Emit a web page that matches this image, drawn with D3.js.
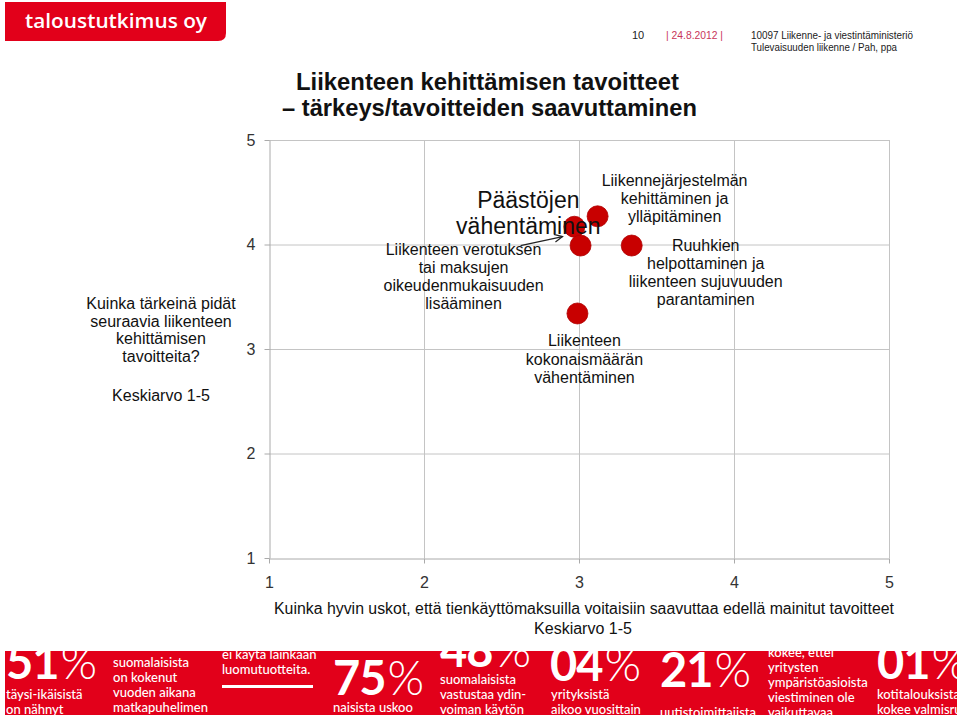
<!DOCTYPE html>
<html>
<head>
<meta charset="utf-8">
<script src="https://cdn.jsdelivr.net/npm/d3@7"></script>
<style>
  html, body { margin: 0; padding: 0; background: #fff; }
  svg { display: block; }
  text { font-family: "Liberation Sans", Arial, sans-serif; }
  .banner text { font-family: Lato, "Open Sans", sans-serif; }
</style>
</head>
<body>
<svg id="chart" width="960" height="716"></svg>
<script>
// ---------- DATA ----------
const categories = [
  "Päästöjen vähentäminen",
  "Liikennejärjestelmän kehittäminen ja ylläpitäminen",
  "Liikenteen verotuksen tai maksujen oikeudenmukaisuuden lisääminen",
  "Ruuhkien helpottaminen ja liikenteen sujuvuuden parantaminen",
  "Liikenteen kokonaismäärän vähentäminen"
];
// x: how well road-use charges could achieve the goal (mean 1-5)
const beliefValues = [2.97, 3.12, 3.01, 3.34, 2.99];
// y: importance of the goal (mean 1-5)
const importanceValues = [4.17, 4.27, 3.99, 3.99, 3.34];
const xTicks = [1, 2, 3, 4, 5];
const yTicks = [1, 2, 3, 4, 5];
const labelLines = [
  ["Päästöjen", "vähentäminen"],
  ["Liikennejärjestelmän", "kehittäminen ja", "ylläpitäminen"],
  ["Liikenteen verotuksen", "tai maksujen", "oikeudenmukaisuuden", "lisääminen"],
  ["Ruuhkien", "helpottaminen ja", "liikenteen sujuvuuden", "parantaminen"],
  ["Liikenteen", "kokonaismäärän", "vähentäminen"]
];
const titleLines = ["Liikenteen kehittämisen tavoitteet", "– tärkeys/tavoitteiden saavuttaminen"];
const yTitleLines = ["Kuinka tärkeinä pidät", "seuraavia liikenteen", "kehittämisen", "tavoitteita?"];
const xTitle = "Kuinka hyvin uskot, että tienkäyttömaksuilla voitaisiin saavuttaa edellä mainitut tavoitteet";
const meanNote = "Keskiarvo 1-5";
const headerPage = "10";
const headerDate = "| 24.8.2012 |";
const headerLines = ["10097 Liikenne- ja viestintäministeriö", "Tulevaisuuden liikenne / Pah, ppa"];
const logoText = "taloustutkimus oy";

// ---------- LAYOUT ----------
const svg = d3.select("#chart");
const plot = { left: 269, right: 889, top: 140, bottom: 558 };
const x = d3.scaleLinear().domain([1, 5]).range([plot.left, plot.right]);
const y = d3.scaleLinear().domain([1, 5]).range([plot.bottom, plot.top]);
const gridColor = "#c4c4c4";
const red = "#e2001a";

// logo
svg.append("path")
  .attr("d", "M5,2 H226 V33 Q226,41 218,41 H5 Z")
  .attr("fill", red);
svg.append("text")
  .attr("x", 25).attr("y", 28)
  .style("font-family", "'Open Sans', sans-serif")
  .attr("font-weight", 600).attr("font-size", 20)
  .attr("fill", "#fff")
  .attr("textLength", 182).attr("lengthAdjust", "spacingAndGlyphs")
  .text(logoText);

// header
const hdr = svg.append("g").attr("font-size", 11).attr("fill", "#222");
hdr.append("text").attr("x", 632).attr("y", 39).text(headerPage);
hdr.append("text").attr("x", 666).attr("y", 39).attr("fill", "#c8355a")
  .attr("textLength", 57).attr("lengthAdjust", "spacingAndGlyphs").text(headerDate);
hdr.append("text").attr("x", 751).attr("y", 39)
  .attr("textLength", 162).attr("lengthAdjust", "spacingAndGlyphs").text(headerLines[0]);
hdr.append("text").attr("x", 751).attr("y", 51)
  .attr("textLength", 146).attr("lengthAdjust", "spacingAndGlyphs").text(headerLines[1]);

// title
svg.append("text").attr("x", 296).attr("y", 90)
  .attr("font-size", 24).attr("font-weight", "bold").attr("fill", "#111")
  .attr("textLength", 383).attr("lengthAdjust", "spacingAndGlyphs")
  .text(titleLines[0]);
svg.append("text").attr("x", 282).attr("y", 116)
  .attr("font-size", 24).attr("font-weight", "bold").attr("fill", "#111")
  .attr("textLength", 415).attr("lengthAdjust", "spacingAndGlyphs")
  .text(titleLines[1]);

// grid
const grid = svg.append("g");
grid.selectAll("line.h").data(yTicks.filter(d => d > 1)).join("line")
  .attr("x1", plot.left).attr("x2", plot.right)
  .attr("y1", d => y(d) + 0.5).attr("y2", d => y(d) + 0.5)
  .attr("stroke", gridColor);
grid.selectAll("line.v").data(xTicks.filter(d => d > 1)).join("line")
  .attr("y1", plot.top).attr("y2", plot.bottom)
  .attr("x1", d => x(d) + 0.5).attr("x2", d => x(d) + 0.5)
  .attr("stroke", gridColor);

// axes
const xAxis = svg.append("g").attr("transform", `translate(0,${plot.bottom + 0.5})`)
  .call(d3.axisBottom(x).tickValues(xTicks).tickSize(5).tickPadding(13).tickSizeOuter(0).tickFormat(d3.format("d")));
const yAxis = svg.append("g").attr("transform", `translate(${plot.left + 0.5},0)`)
  .call(d3.axisLeft(y).tickValues(yTicks).tickSize(5).tickPadding(9).tickSizeOuter(0).tickFormat(d3.format("d")));
[xAxis, yAxis].forEach(a => {
  a.select(".domain").attr("stroke", "#aaa");
  a.selectAll(".tick line").attr("stroke", "#aaa");
  a.selectAll(".tick text").attr("font-size", 16).attr("fill", "#333")
    .attr("font-family", "Liberation Sans, Arial, sans-serif");
});

// axis titles
svg.append("text").attr("x", 584).attr("y", 614).attr("text-anchor", "middle")
  .attr("font-size", 16).attr("fill", "#111")
  .attr("textLength", 620).attr("lengthAdjust", "spacingAndGlyphs").text(xTitle);
svg.append("text").attr("x", 583).attr("y", 634).attr("text-anchor", "middle")
  .attr("font-size", 16).attr("fill", "#111").text(meanNote);

const yt = svg.append("g").attr("font-size", 16).attr("fill", "#111").attr("text-anchor", "middle");
yTitleLines.forEach((t, i) => {
  yt.append("text").attr("x", 161).attr("y", 309 + i * 17.7).text(t);
});
yt.append("text").attr("x", 161).attr("y", 401).text(meanNote);

// points
const pts = categories.map((c, i) => ({ c, bx: beliefValues[i], iy: importanceValues[i], lines: labelLines[i] }));
svg.append("g").selectAll("circle").data(pts).join("circle")
  .attr("cx", d => x(d.bx)).attr("cy", d => y(d.iy)).attr("r", 10.5)
  .attr("fill", "#c80000").attr("stroke", "#b00000").attr("stroke-width", 0.8);

// labels (pixel offsets relative to each point)
const labelOffsets = [
  { dx: -46, dy: -19, lh: 26, size: 23 },
  { dx: 77, dy: -30, lh: 18, size: 16 },
  { dx: -117, dy: 9, lh: 18.3, size: 16 },
  { dx: 74, dy: 5, lh: 18, size: 16 },
  { dx: 7, dy: 33, lh: 18.5, size: 16 }
];
const lab = svg.append("g").attr("fill", "#111").attr("text-anchor", "middle");
pts.forEach((d, i) => {
  const o = labelOffsets[i];
  d.lines.forEach((t, j) => {
    lab.append("text")
      .attr("x", x(d.bx) + o.dx)
      .attr("y", y(d.iy) + o.dy + j * o.lh)
      .attr("font-size", o.size)
      .text(t);
  });
});

// arrow pointing from the tax label to its point
const p3 = pts[2];
const ax0 = x(p3.bx) - 60, ay0 = y(p3.iy) + 0, ax1 = x(p3.bx) - 18, ay1 = y(p3.iy) - 9;
const ang = Math.atan2(ay1 - ay0, ax1 - ax0);
svg.append("line").attr("x1", ax0).attr("y1", ay0).attr("x2", ax1).attr("y2", ay1)
  .attr("stroke", "#222").attr("stroke-width", 1.2);
svg.append("path")
  .attr("d", `M${ax1 - 9 * Math.cos(ang - 0.45)},${ay1 - 9 * Math.sin(ang - 0.45)} L${ax1},${ay1} L${ax1 - 9 * Math.cos(ang + 0.45)},${ay1 - 9 * Math.sin(ang + 0.45)}`)
  .attr("fill", "none").attr("stroke", "#222").attr("stroke-width", 1.2);

// ---------- BANNER ----------
const bannerBig = [
  { t: "51", x: 6, y: 679 }, { t: "14", x: 229, y: 750 }, { t: "75", x: 333, y: 695 },
  { t: "48", x: 440, y: 667 }, { t: "04", x: 550, y: 681 }, { t: "21", x: 660, y: 687 },
  { t: "01", x: 877, y: 679 }
];
const bannerSmall = [
  { x: 6, y: 699, lines: ["täysi-ikäisistä", "on nähnyt"] },
  { x: 113, y: 667, lines: ["suomalaisista", "on kokenut", "vuoden aikana", "matkapuhelimen"] },
  { x: 222, y: 659, lines: ["ei käytä lainkaan", "luomutuotteita."] },
  { x: 333, y: 712, lines: ["naisista uskoo"] },
  { x: 440, y: 684, lines: ["suomalaisista", "vastustaa ydin-", "voiman käytön"] },
  { x: 551, y: 699, lines: ["yrityksistä", "aikoo vuosittain"] },
  { x: 660, y: 717, lines: ["uutistoimittajista"] },
  { x: 768, y: 657, lines: ["kokee, ettei", "yritysten", "ympäristöasioista", "viestiminen ole", "vaikuttavaa"] },
  { x: 877, y: 699, lines: ["kotitalouksista", "kokee valmisruokaa"] }
];
svg.append("defs").append("clipPath").attr("id", "bclip")
  .append("rect").attr("x", 5).attr("y", 651).attr("width", 952).attr("height", 64);
const banner = svg.append("g").attr("class", "banner").attr("clip-path", "url(#bclip)");
banner.append("rect").attr("x", 5).attr("y", 651).attr("width", 952).attr("height", 64).attr("fill", red);
bannerBig.forEach(b => {
  const t = banner.append("text").attr("x", b.x).attr("y", b.y).attr("fill", "#fff").attr("font-size", 47)
    .attr("letter-spacing", -1);
  t.append("tspan").attr("font-weight", 700).text(b.t);
  t.append("tspan").attr("font-weight", 300).attr("dx", 2).text("%");
});
bannerSmall.forEach(b => {
  b.lines.forEach((l, j) => {
    banner.append("text").attr("x", b.x).attr("y", b.y + j * 15)
      .attr("fill", "#fff").attr("font-size", 13).attr("font-weight", 500).text(l);
  });
});
banner.append("rect").attr("x", 222).attr("y", 685).attr("width", 91).attr("height", 3).attr("fill", "#fff");
</script>
</body>
</html>
